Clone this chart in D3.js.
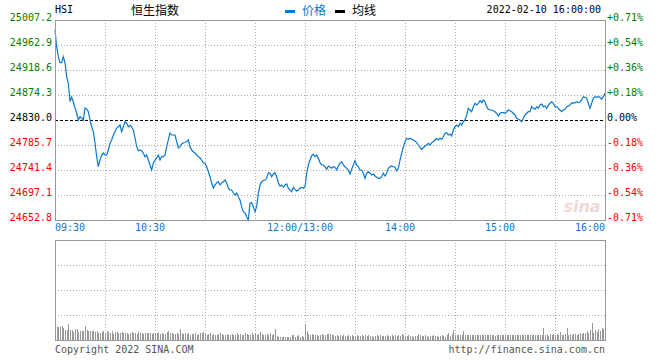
<!DOCTYPE html>
<html><head><meta charset="utf-8">
<script src="https://cdn.jsdelivr.net/npm/d3@7"></script>
<style>
body{margin:0;background:#fff}
svg{display:block}
text{font-family:"DejaVu Sans Mono","Liberation Mono",monospace;font-size:10px}
</style>
</head><body>
<svg id="c" width="660" height="360"></svg>
<script>
const symbol = "HSI";
const title = "恒生指数";
const legendNames = ["价格", "均线"];
const dateText = "2022-02-10 16:00:00";
const prevClose = 24830.0;
const priceTicks = [25007.2, 24962.9, 24918.6, 24874.3, 24830.0, 24785.7, 24741.4, 24697.1, 24652.8];
const pctTicks = ["+0.71%", "+0.54%", "+0.36%", "+0.18%", "0.00%", "-0.18%", "-0.36%", "-0.54%", "-0.71%"];
const timeLabels = ["09:30", "10:30", "12:00/13:00", "14:00", "15:00", "16:00"];
const timeMinutes = [0, 60, 150, 210, 270, 330];
const gridMinutes = [30, 60, 90, 120, 150, 180, 210, 240, 270, 300];
const copyright = "Copyright 2022 SINA.COM";
const url = "http://finance.sina.com.cn";

// one value per trading minute (09:30 ... 12:00 / 13:00 ... 16:00)
const prices = [
24989.5,24959.9,24942.2,24931.5,24931.5,24942.2,24931.0,24906.7,24895.0,24862.9,
24870.8,24861.9,24851.3,24842.4,24830.0,24835.8,24833.5,24830.0,24851.3,24849.5,
24844.7,24830.0,24818.1,24809.3,24789.2,24765.0,24747.2,24759.1,24768.0,24771.5,
24768.0,24768.0,24776.8,24789.2,24794.6,24803.4,24809.3,24815.8,24818.1,24821.1,
24809.3,24818.1,24827.0,24824.7,24818.1,24820.6,24817.6,24812.3,24798.1,24782.7,
24775.6,24776.8,24775.1,24771.5,24765.0,24768.0,24759.1,24750.3,24741.4,24753.8,
24759.1,24762.7,24768.0,24759.1,24765.0,24765.0,24768.0,24782.7,24794.6,24807.0,
24803.4,24803.4,24803.4,24791.5,24780.4,24782.7,24787.5,24789.8,24790.5,24791.5,
24794.6,24782.7,24776.8,24773.8,24771.5,24768.0,24765.0,24762.7,24759.1,24753.8,
24753.8,24747.2,24738.4,24729.5,24718.4,24709.5,24714.8,24718.4,24720.7,24714.8,
24718.4,24720.7,24723.7,24718.4,24709.5,24706.0,24706.0,24700.6,24697.1,24700.6,
24694.1,24688.2,24676.4,24667.5,24665.2,24658.6,24652.8,24682.9,24683.4,24676.4,
24667.5,24676.4,24700.1,24714.8,24720.7,24722.8,24723.7,24726.7,24736.6,24735.6,
24729.5,24734.3,24736.6,24729.5,24718.9,24713.0,24714.8,24710.7,24714.8,24716.6,
24709.0,24706.0,24702.9,24710.7,24707.2,24704.2,24706.0,24709.5,24710.7,24709.0,
24711.8,24735.6,24750.3,24759.1,24766.7,24769.2,24765.0,24768.0,24762.1,24754.3,
24750.3,24750.3,24747.2,24742.6,24748.5,24746.7,24744.4,24747.2,24746.2,24741.4,
24748.5,24753.3,24756.1,24750.3,24747.2,24744.4,24741.4,24734.3,24742.6,24750.3,
24757.9,24750.3,24747.2,24741.4,24741.4,24735.6,24726.7,24735.6,24738.4,24735.6,
24732.5,24734.3,24730.8,24728.5,24726.7,24726.7,24729.5,24735.6,24730.8,24735.6,
24744.4,24747.2,24748.5,24747.2,24746.2,24739.6,24744.4,24759.1,24771.0,24782.7,
24791.5,24797.6,24795.8,24797.6,24795.8,24794.6,24792.8,24789.8,24785.7,24781.6,
24778.1,24780.9,24783.9,24785.7,24788.7,24785.7,24789.8,24791.5,24794.6,24797.6,
24794.6,24797.6,24795.8,24800.4,24806.4,24807.5,24803.4,24805.2,24801.6,24812.3,
24818.1,24821.1,24818.1,24824.2,24821.1,24827.0,24830.0,24838.9,24850.7,24847.7,
24844.7,24853.6,24859.6,24856.6,24859.6,24864.2,24860.7,24865.4,24862.4,24853.6,
24849.0,24847.7,24847.7,24846.5,24844.7,24841.9,24837.1,24841.9,24842.9,24842.9,
24841.9,24844.7,24847.7,24846.5,24844.7,24841.9,24838.9,24833.0,24831.2,24830.0,
24827.0,24833.0,24838.9,24841.9,24844.7,24844.7,24853.6,24850.7,24849.0,24853.6,
24850.7,24856.6,24858.4,24853.6,24854.8,24850.7,24856.6,24859.6,24862.4,24859.6,
24853.6,24853.6,24850.7,24847.7,24844.7,24847.7,24849.0,24853.6,24854.8,24856.6,
24860.7,24859.6,24860.7,24862.4,24860.7,24862.4,24865.4,24871.3,24870.2,24868.5,
24859.6,24850.7,24859.6,24868.5,24871.3,24870.2,24871.3,24870.2,24866.7,24871.3,
24877.3
];

// volume per minute (relative units, panel full scale = 100)
const volumes = [
14.7,13.3,12.7,12.7,14,12,10,10,16,10,
10,8,10.7,10.7,8,8.7,9.3,8.7,14,10,
9.3,9.3,8.7,8.7,8,8.7,6.7,6.7,8,8.7,
7.3,8.7,8,7.3,8.7,6,8,8,7.3,7.3,
8,7.3,6.7,7.3,6,6.7,8,7.3,6.7,6,
8,7.3,6.7,6,6.7,6.7,6.7,7.3,6,7.3,
6,6.7,7.3,6,7.3,6,6,8,8.7,7.3,
7.3,6,6,6.7,6,10.7,7.3,6,6.7,6,
6.7,5.3,6,6,6.7,5.3,6,7.3,7.3,8,
6,5.3,6,7.3,5.3,6,5.3,4.7,6,6.7,
6,4.7,5.3,6,5.3,4.7,6,5.3,5.3,6.7,
5.3,6,5.3,4.7,6.7,6,4.7,5.3,6.7,5.3,
7.3,5.3,6,8,6,5.3,5.3,6,5.3,6.7,
5.3,6,10.7,4,3.3,3.3,3.3,3.3,3.3,3.3,
3.3,3.3,5.3,5.3,3.3,4,4.7,3.3,4,3.3,
14.7,8.7,6,5.3,6,5.3,4.7,4.7,
4,4.7,6,5.3,5.3,6,6,6,4.7,5.3,
4,4.7,4,4.7,4,4.7,4,4,4.7,4,
4.7,4,4,4.7,4,4,4.7,4,4.7,4,
4.7,4,4,3.3,4,4.7,4,4.7,4,4,
4,4.7,4,4,4.7,4,4.7,4,4.7,4,
5.7,4.7,4,4,4.7,4,4,3.3,4,4,
5.7,4.7,4,4,4.7,4,3.3,4,4,4.7,
4,4,3.3,4,4.7,4,3.3,4.7,7.3,4,
6,10,5,4.7,5.3,4.7,4.7,9,5.3,5.3,
4.7,5.3,4.7,5.3,4.7,5.3,4.7,4.7,5.3,4.7,
5.3,4.7,5.3,4.7,4.7,5.3,4,4.7,5.3,4.7,
4.7,5.3,4.7,5.3,4.7,4.7,5.3,5.3,4.7,5.3,
5.3,4.7,5.3,5.3,4.7,5.3,5.3,4.7,5.3,5.3,
5.3,4.7,5.3,5.3,4.7,12.3,5.3,6,4,6,
5.3,6,4.7,6,5.3,8.3,4.7,5.3,6,12,
5.3,6,4.7,6,6,5.3,6,6.7,6,6.7,
7.3,9,7.3,10,17.3,7.3,10,8,11.3,9,
12.3,11,18.3
];

const colors = {
  line: "#0a78d1", up: "#008000", down: "#ff0000", flat: "#000000",
  frame: "#999999", grid: "#aaaaaa", vol: "#999999", time: "#0a78d1", foot: "#555555"
};

const svg = d3.select("#c");
const x = d3.scaleLinear().domain([0, 330]).range([55, 605]);
const y = d3.scaleLinear().domain([24652.8, 25007.2]).range([220, 20]);
const yv = d3.scaleLinear().domain([0, 100]).range([340, 240]);

// ---------- main panel grid ----------
const gMain = svg.append("g");
gMain.selectAll("line.hg").data(priceTicks.filter(p => p !== prevClose && p !== 25007.2 && p !== 24652.8))
  .join("line").attr("x1", 55).attr("x2", 605)
  .attr("y1", d => Math.round(y(d)) + 0.5).attr("y2", d => Math.round(y(d)) + 0.5)
  .attr("stroke", colors.grid).attr("stroke-dasharray", "1,2");
gMain.selectAll("line.vg").data(gridMinutes).join("line")
  .attr("x1", d => Math.round(x(d)) + 0.5).attr("x2", d => Math.round(x(d)) + 0.5)
  .attr("y1", 20).attr("y2", 220)
  .attr("stroke", colors.grid).attr("stroke-dasharray", "1,2");
// previous close line
gMain.append("line").attr("x1", 55).attr("x2", 605)
  .attr("y1", Math.round(y(prevClose)) + 0.5).attr("y2", Math.round(y(prevClose)) + 0.5)
  .attr("stroke", "#000").attr("stroke-dasharray", "3,2");

// watermark
svg.append("text").attr("x", 582).attr("y", 212).attr("text-anchor", "middle")
  .style("font-size", "16px")
  .style("font-style", "italic").style("font-weight", "bold")
  .style("font-family", "DejaVu Sans, sans-serif")
  .attr("fill", "#eed8d8").text("sina");

// price line
const line = d3.line().x((d, i) => x(i)).y(d => y(d));
gMain.append("path").datum(prices).attr("d", line)
  .attr("fill", "none").attr("stroke", colors.line).attr("stroke-width", 1.2)
  .attr("stroke-linejoin", "miter");

// frame
svg.append("rect").attr("x", 55.5).attr("y", 20.5).attr("width", 550).attr("height", 200)
  .attr("fill", "none").attr("stroke", colors.frame);

// left axis
const colorFor = p => p > prevClose ? colors.up : (p < prevClose ? colors.down : colors.flat);
const axL = svg.append("g").attr("transform", "translate(55,0)")
  .call(d3.axisLeft(y).tickValues(priceTicks).tickSize(0).tickPadding(3).tickFormat(d => d.toFixed(1)));
axL.select(".domain").remove();
axL.selectAll("text").attr("dy", "0").attr("y", 0)
  .style("font-family", "DejaVu Sans Mono, monospace").style("font-size", "10px")
  .attr("fill", d => colorFor(d));

// right axis
const axR = svg.append("g").attr("transform", "translate(605,0)")
  .call(d3.axisRight(y).tickValues(priceTicks).tickSize(0).tickPadding(2)
    .tickFormat((d, i) => pctTicks[i]));
axR.select(".domain").remove();
axR.selectAll("text").attr("dy", "0")
  .style("font-family", "DejaVu Sans Mono, monospace").style("font-size", "10px")
  .attr("fill", d => colorFor(d));

// time axis labels
svg.append("g").selectAll("text").data(timeLabels).join("text")
  .attr("x", (d, i) => i === 0 ? x(timeMinutes[i]) : (i === timeLabels.length - 1 ? x(timeMinutes[i]) : x(timeMinutes[i]) - 5))
  .attr("y", 231)
  .attr("text-anchor", (d, i) => i === 0 ? "start" : (i === timeLabels.length - 1 ? "end" : "middle"))
  .attr("fill", colors.time).text(d => d);

// ---------- volume panel ----------
const gVol = svg.append("g");
gVol.selectAll("line.hg").data([25, 50, 75]).join("line")
  .attr("x1", 55).attr("x2", 605)
  .attr("y1", d => Math.round(yv(d)) + 0.5).attr("y2", d => Math.round(yv(d)) + 0.5)
  .attr("stroke", colors.grid).attr("stroke-dasharray", "1,2");
gVol.selectAll("line.vg").data(gridMinutes).join("line")
  .attr("x1", d => Math.round(x(d)) + 0.5).attr("x2", d => Math.round(x(d)) + 0.5)
  .attr("y1", 240).attr("y2", 340)
  .attr("stroke", colors.grid).attr("stroke-dasharray", "1,2");
gVol.selectAll("rect.v").data(volumes).join("rect")
  .attr("x", (d, i) => Math.round(x(i)))
  .attr("width", 1)
  .attr("y", d => Math.round(yv(d)))
  .attr("height", d => 340 - Math.round(yv(d)))
  .attr("fill", colors.vol).attr("shape-rendering", "crispEdges");
svg.append("rect").attr("x", 55.5).attr("y", 240.5).attr("width", 550).attr("height", 100)
  .attr("fill", "none").attr("stroke", colors.frame);

// ---------- header ----------
svg.append("text").attr("x", 55).attr("y", 13).attr("fill", "#000").text(symbol);
svg.append("text").attr("x", 131).attr("y", 15).attr("fill", "#000")
  .style("font-family", "Noto Sans CJK SC, sans-serif").style("font-size", "12px").text(title);
const legendColors = [colors.line, "#000"];
const legendX = [285, 335];
legendNames.forEach((n, i) => {
  svg.append("rect").attr("x", legendX[i]).attr("y", 10).attr("width", 10).attr("height", 3)
    .attr("fill", legendColors[i]);
  svg.append("text").attr("x", legendX[i] + 17).attr("y", 15).attr("fill", legendColors[i])
    .style("font-family", "Noto Sans CJK SC, sans-serif").style("font-size", "12px").text(n);
});
svg.append("text").attr("x", 601).attr("y", 13).attr("text-anchor", "end").attr("fill", "#000").text(dateText);

// ---------- footer ----------
svg.append("text").attr("x", 55).attr("y", 353).attr("fill", colors.foot).text(copyright);
svg.append("text").attr("x", 605).attr("y", 353).attr("text-anchor", "end").attr("fill", colors.foot).text(url);
</script>
</body></html>
